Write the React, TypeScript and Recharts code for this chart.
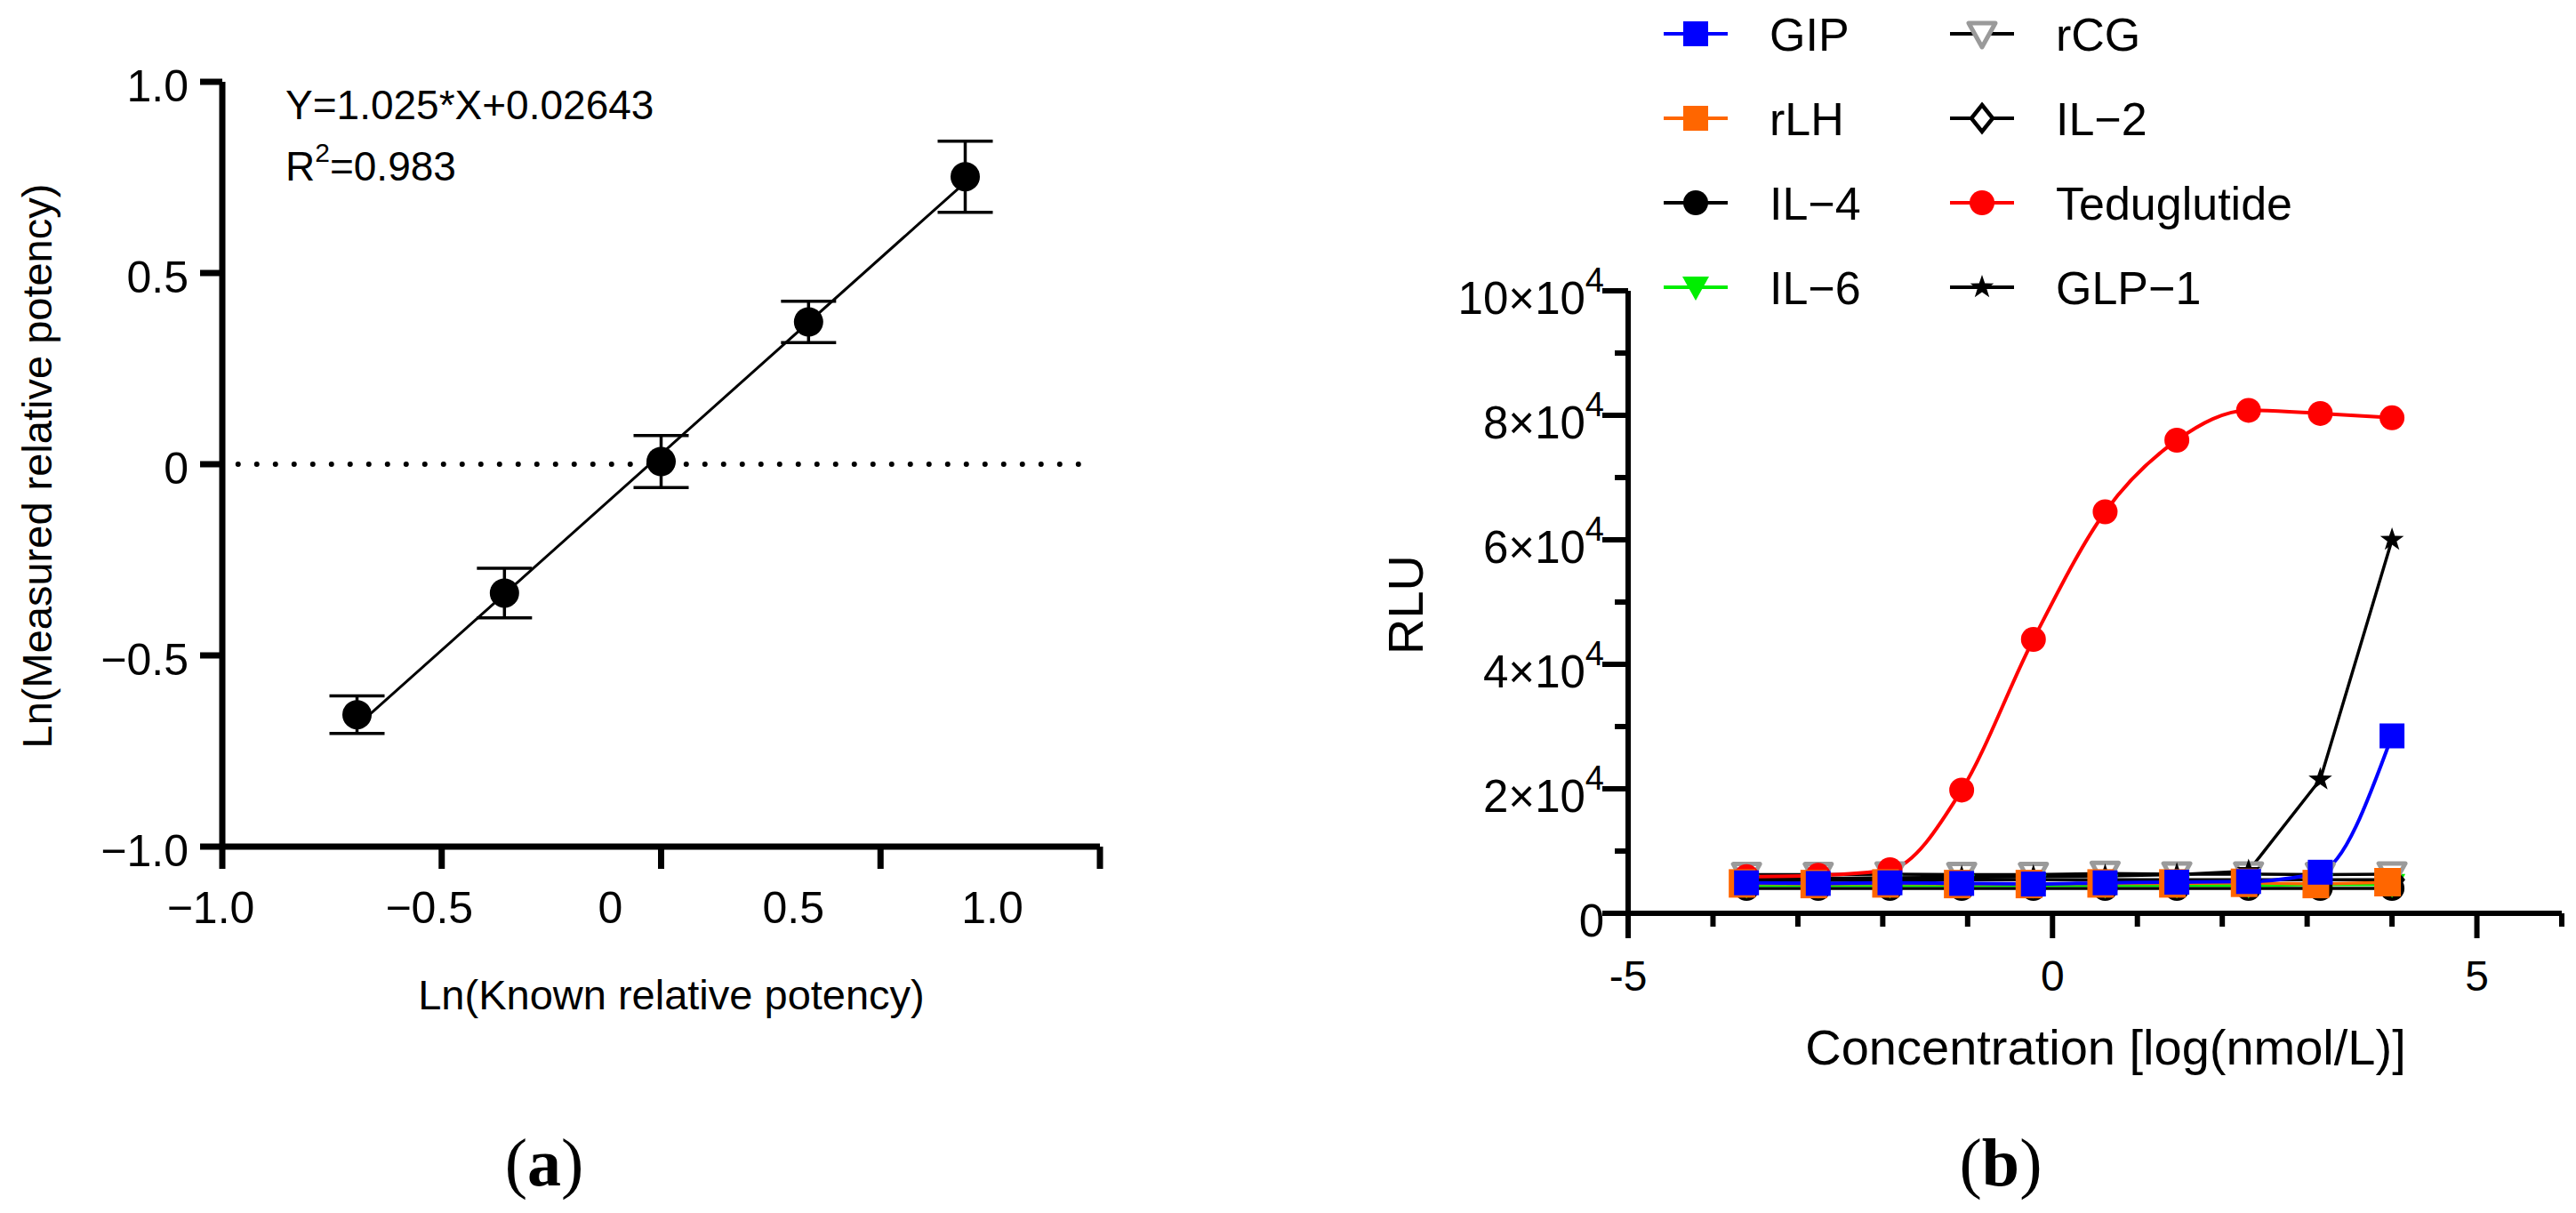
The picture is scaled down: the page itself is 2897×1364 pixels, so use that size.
import React from 'react'
import {
  ComposedChart,
  LineChart,
  Line,
  Scatter,
  XAxis,
  YAxis,
  ErrorBar,
  ReferenceLine,
  Legend,
  Label,
} from 'recharts'

// ---- panel (a) data ----
const knownLn = [-0.693, -0.357, 0, 0.336, 0.693]
const measuredLn = [-0.655, -0.337, 0.007, 0.372, 0.752]
const measuredSd = [0.049, 0.065, 0.068, 0.054, 0.093]
const fitLn = [-0.684, null, null, null, 0.737]
const aTicks = [-1, -0.5, 0, 0.5, 1]
const aTickLabels = ['\u22121.0', '\u22120.5', '0', '0.5', '1.0']

// ---- panel (b) data ----
const logConc = [-3.605, -2.76, -1.915, -1.07, -0.225, 0.62, 1.465, 2.31, 3.155, 4.0]
const gip = [4900, 4800, 4900, 4800, 4700, 4900, 5000, 5100, 6600, 28500]
const rlh = [4800, 4700, 4800, 4700, 4700, 4800, 4800, 4900, 4700, 5000]
const il4 = [4000, 4000, 4000, 4000, 4000, 4000, 4000, 4000, 4000, 4000]
const il6 = [4500, 4500, 4500, 4500, 4500, 4500, 4500, 4500, 4600, 4600]
const rcg = [6200, 6200, 6300, 6200, 6200, 6400, 6300, 6300, 6200, 6300]
const il2 = [5300, 5300, 5400, 5400, 5400, 5400, 5400, 5400, 5400, 5400]
const teduglutide = [5900, 6100, 7000, 19800, 44000, 64500, 76000, 80800, 80300, 79600]
const glp1 = [5600, 5600, 5700, 5800, 5900, 6000, 6200, 6800, 21500, 60000]
const bXTicks = [-5, -4, -3, -2, -1, 0, 1, 2, 3, 4, 5, 6]
const bXLabels: Record<number, string> = { [-5]: '-5', 0: '0', 5: '5' }
const bYTicks = [0, 10000, 20000, 30000, 40000, 50000, 60000, 70000, 80000, 90000, 100000]
const bYMantissa = ['0', '', '2', '', '4', '', '6', '', '8', '', '10']

const aData = knownLn.map((x, i) => ({ x, y: measuredLn[i], sd: measuredSd[i], fit: fitLn[i] }))
const bData = logConc.map((x, i) => ({
  x,
  GIP: gip[i],
  rLH: rlh[i],
  IL4: il4[i],
  IL6: il6[i],
  rCG: rcg[i],
  IL2: il2[i],
  Teduglutide: teduglutide[i],
  GLP1: glp1[i],
}))

type Marker = 'square' | 'squareBack' | 'circle' | 'triDown' | 'triOpen' | 'diamond' | 'star'
interface Series {
  key: string
  name: string
  color: string
  line: string
  marker: Marker
  curve: 'linear' | 'monotone'
}

// legend order (two columns)
const series: Series[] = [
  { key: 'GIP', name: 'GIP', color: '#0000ff', line: '#0000ff', marker: 'square', curve: 'monotone' },
  { key: 'rLH', name: 'rLH', color: '#ff6600', line: '#ff6600', marker: 'squareBack', curve: 'linear' },
  { key: 'IL4', name: 'IL\u22124', color: '#000000', line: '#000000', marker: 'circle', curve: 'linear' },
  { key: 'IL6', name: 'IL\u22126', color: '#00ee00', line: '#00ee00', marker: 'triDown', curve: 'linear' },
  { key: 'rCG', name: 'rCG', color: '#9a9a9a', line: '#000000', marker: 'triOpen', curve: 'linear' },
  { key: 'IL2', name: 'IL\u22122', color: '#000000', line: '#000000', marker: 'diamond', curve: 'linear' },
  { key: 'Teduglutide', name: 'Teduglutide', color: '#ff0000', line: '#ff0000', marker: 'circle', curve: 'monotone' },
  { key: 'GLP1', name: 'GLP\u22121', color: '#000000', line: '#000000', marker: 'star', curve: 'linear' },
]
// painting order in the plot (bottom to top)
const drawOrder = ['IL4', 'IL6', 'IL2', 'rCG', 'GLP1', 'Teduglutide', 'rLH', 'GIP']

const FONT = '"Liberation Sans", Arial, sans-serif'
const SERIF = '"Liberation Serif", "Times New Roman", serif'

function marker(kind: Marker, color: string, cx: number, cy: number, k?: React.Key, inLegend = false) {
  switch (kind) {
    case 'square':
      return <rect key={k} x={cx - 14} y={cy - 14} width={28} height={28} fill={color} />
    case 'squareBack':
      // orange squares sit slightly left of the blue ones in the plot
      return inLegend
        ? <rect key={k} x={cx - 14} y={cy - 14} width={28} height={28} fill={color} />
        : <rect key={k} x={cx - 20} y={cy - 16} width={30} height={32} fill={color} />
    case 'circle':
      return <circle key={k} cx={cx} cy={cy} r={14} fill={color} />
    case 'triDown':
      return <path key={k} d={`M${cx - 15},${cy - 12}L${cx + 15},${cy - 12}L${cx},${cy + 15}Z`} fill={color} />
    case 'triOpen':
      return (
        <path key={k} d={`M${cx - 15},${cy - 12}L${cx + 15},${cy - 12}L${cx},${cy + 15}Z`}
          fill="#fff" stroke={color} strokeWidth={5} strokeLinejoin="round" />
      )
    case 'diamond':
      return (
        <path key={k} d={`M${cx},${cy - 15}L${cx + 12},${cy}L${cx},${cy + 15}L${cx - 12},${cy}Z`}
          fill="#fff" stroke={color} strokeWidth={4.5} />
      )
    case 'star': {
      const pts: string[] = []
      for (let i = 0; i < 10; i++) {
        const r = i % 2 === 0 ? 14 : 5.5
        const a = -Math.PI / 2 + (i * Math.PI) / 5
        pts.push(`${cx + r * Math.cos(a)},${cy + r * Math.sin(a)}`)
      }
      return <polygon key={k} points={pts.join(' ')} fill={color} />
    }
  }
}

// ---------- panel (a) ticks ----------
// the x labels in the figure drift left of their tick marks
const aLabelNudge = [-13, -14, -57, -98, -121]

const AXTick = (props: any) => {
  const { x, y, payload } = props
  const i = aTicks.indexOf(payload.value)
  return (
    <g>
      <line x1={x} y1={y} x2={x} y2={y + 25} stroke="#000" strokeWidth={7} />
      <text x={x + aLabelNudge[i]} y={y + 86} textAnchor="middle" fontSize={50} fontFamily={FONT} fill="#000">
        {aTickLabels[i]}
      </text>
    </g>
  )
}

const AYTick = (props: any) => {
  const { x, y, payload } = props
  const i = aTicks.indexOf(payload.value)
  return (
    <g>
      <line x1={x} y1={y} x2={x - 25} y2={y} stroke="#000" strokeWidth={7} />
      <text x={x - 38} y={y + 22} textAnchor="end" fontSize={50} fontFamily={FONT} fill="#000">
        {aTickLabels[i]}
      </text>
    </g>
  )
}

// ---------- panel (b) ticks ----------
const BXTick = (props: any) => {
  const { x, y, payload } = props
  const label = bXLabels[payload.value]
  const major = label !== undefined
  return (
    <g>
      <line x1={x} y1={y} x2={x} y2={y + (major ? 28 : 15)} stroke="#000" strokeWidth={6} />
      {major && (
        <text x={x} y={y + 87} textAnchor="middle" fontSize={48} fontFamily={FONT} fill="#000">
          {label}
        </text>
      )}
    </g>
  )
}

const BYTick = (props: any) => {
  const { x, y, payload } = props
  const i = bYTicks.indexOf(payload.value)
  const m = bYMantissa[i]
  const major = m !== ''
  return (
    <g>
      <line x1={x} y1={y} x2={x - (major ? 29 : 15)} y2={y} stroke="#000" strokeWidth={6} />
      {major && (
        <text x={x - 27} y={y + 26} textAnchor="end" fontSize={51} fontFamily={FONT} fill="#000">
          {m === '0' ? (
            '0'
          ) : (
            <>
              <tspan>{m}{'\u00d710'}</tspan>
              <tspan fontSize={38} dy={-25}>4</tspan>
            </>
          )}
        </text>
      )}
    </g>
  )
}

const dotFor = (s: Series) => (p: any) => {
  if (p.cx == null || p.cy == null) return <g key={`${s.key}-${p.index}`} />
  return marker(s.marker, s.color, p.cx, p.cy, `${s.key}-${p.index}`)
}

const renderLegend = () => (
  <svg width={760} height={380} style={{ display: 'block' }}>
    {series.map((s, i) => {
      const col = i < 4 ? 0 : 1
      const row = i % 4
      const cx = col === 0 ? 47 : 369
      const cy = 38 + row * 95
      return (
        <g key={s.key}>
          <line x1={cx - 36} y1={cy} x2={cx + 36} y2={cy} stroke={s.line} strokeWidth={4} />
          {marker(s.marker, s.color, cx, cy, undefined, true)}
          <text x={cx + 83} y={cy + 19} fontSize={52} fontFamily={FONT} fill="#000">
            {s.name}
          </text>
        </g>
      )
    })}
  </svg>
)

function PanelA() {
  return (
    <ComposedChart width={1400} height={1364} data={aData}
      margin={{ top: 92, right: 163, bottom: 312, left: 0 }}>
      <XAxis type="number" dataKey="x" domain={[-1, 1]} ticks={aTicks} height={100}
        axisLine={{ stroke: '#000', strokeWidth: 7 }} tickLine={false} tickSize={0} tickMargin={0}
        tick={<AXTick />} interval={0}>
        <Label content={() => (
          <text x={755} y={1135} textAnchor="middle" fontSize={47} fontFamily={FONT} fill="#000">
            Ln(Known relative potency)
          </text>
        )} />
      </XAxis>
      <YAxis type="number" domain={[-1, 1]} ticks={aTicks} width={250}
        axisLine={{ stroke: '#000', strokeWidth: 7 }} tickLine={false} tickSize={0} tickMargin={0}
        tick={<AYTick />} interval={0}>
        <Label content={() => (
          <text x={58} y={524} transform="rotate(-90 58 524)" textAnchor="middle" fontSize={47}
            fontFamily={FONT} fill="#000">
            Ln(Measured relative potency)
          </text>
        )} />
      </YAxis>
      <ReferenceLine segment={[{ x: -0.964, y: 0 }, { x: 0.961, y: 0 }]} stroke="#000" strokeWidth={6}
        strokeDasharray="0 21" strokeLinecap="round" />
      <Line dataKey="fit" type="linear" stroke="#000" strokeWidth={3} dot={false} connectNulls
        isAnimationActive={false} />
      <Scatter dataKey="y" fill="#000" isAnimationActive={false}
        shape={(p: any) => <circle cx={p.cx} cy={p.cy} r={16.5} fill="#000" />}>
        <ErrorBar dataKey="sd" direction="y" width={31} strokeWidth={3.5} stroke="#000" />
      </Scatter>
    </ComposedChart>
  )
}

function PanelB() {
  const byKey = Object.fromEntries(series.map((s) => [s.key, s]))
  return (
    <LineChart width={1497} height={1364} data={bData}
      margin={{ top: 327, right: 16, bottom: 237, left: 0 }}>
      <XAxis type="number" dataKey="x" domain={[-5, 6]} ticks={bXTicks} height={100} interval={0}
        axisLine={{ stroke: '#000', strokeWidth: 6 }} tickLine={false} tickSize={0} tickMargin={0}
        tick={<BXTick />}>
        <Label content={() => (
          <text x={968} y={1197} textAnchor="middle" fontSize={56} fontFamily={FONT} fill="#000">
            Concentration [log(nmol/L)]
          </text>
        )} />
      </XAxis>
      <YAxis type="number" domain={[0, 100000]} ticks={bYTicks} width={431} interval={0}
        axisLine={{ stroke: '#000', strokeWidth: 6 }} tickLine={false} tickSize={0} tickMargin={0}
        tick={<BYTick />}>
        <Label content={() => (
          <text x={200} y={680} transform="rotate(-90 200 680)" textAnchor="middle" fontSize={56}
            fontFamily={FONT} fill="#000">
            RLU
          </text>
        )} />
      </YAxis>
      <Legend content={renderLegend} layout="vertical" align="center" verticalAlign="middle"
        wrapperStyle={{ left: 460, top: 0, width: 760, height: 380 }} />
      {drawOrder.map((k) => {
        const s = byKey[k]
        return (
          <Line key={k} dataKey={k} name={s.name} type={s.curve} stroke={s.line}
            strokeWidth={s.key === 'Teduglutide' || s.key === 'GIP' ? 4 : 3.5}
            dot={dotFor(s)} activeDot={false} isAnimationActive={false} />
        )
      })}
    </LineChart>
  )
}

export default function App() {
  return (
    <div style={{ position: 'absolute', left: 0, top: 0, width: 2897, height: 1364, background: '#fff', fontFamily: FONT }}>
      <div style={{ position: 'absolute', left: 0, top: 0 }}>
        <PanelA />
      </div>
      <div style={{ position: 'absolute', left: 1400, top: 0 }}>
        <PanelB />
      </div>
      <svg width={2897} height={1364} style={{ position: 'absolute', left: 0, top: 0, pointerEvents: 'none' }}>
        <text x={321} y={134} fontSize={46} fontFamily={FONT} fill="#000">Y=1.025*X+0.02643</text>
        <text x={321} y={203} fontSize={46} fontFamily={FONT} fill="#000">
          R<tspan fontSize={30} dy={-21}>2</tspan><tspan dy={21}>=0.983</tspan>
        </text>
        <text x={612} y={1333} textAnchor="middle" fontSize={76} fontFamily={SERIF} fill="#000">
          (<tspan fontWeight="bold">a</tspan>)
        </text>
        <text x={2250} y={1333} textAnchor="middle" fontSize={76} fontFamily={SERIF} fill="#000">
          (<tspan fontWeight="bold">b</tspan>)
        </text>
      </svg>
    </div>
  )
}
